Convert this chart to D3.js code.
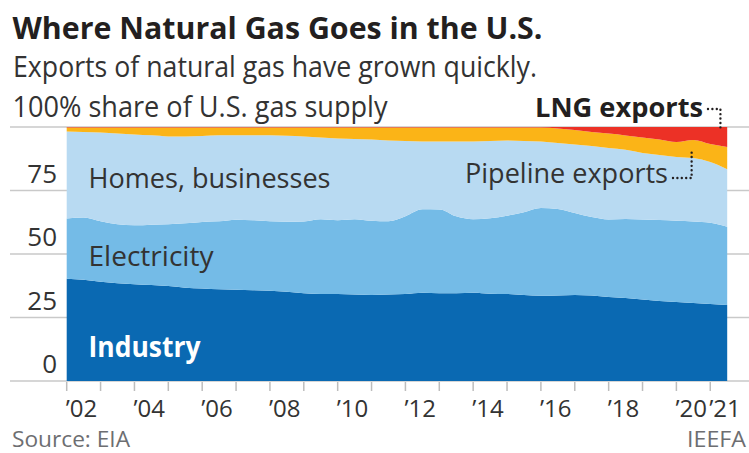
<!DOCTYPE html>
<html>
<head>
<meta charset="utf-8">
<script src="https://cdn.jsdelivr.net/npm/d3@7"></script>
<style>
  html, body { margin: 0; padding: 0; background: #fff; }
  svg { display: block; font-family: "Open Sans", "Noto Sans", sans-serif; }
</style>
</head>
<body>
<svg id="chart" width="749" height="453"></svg>
<script>
// ---- data (share of U.S. natural gas supply, %) ----
const years = [2002, 2002.5, 2003, 2003.5, 2004, 2004.5, 2005, 2005.5, 2006, 2006.5,
  2007, 2007.5, 2008, 2008.5, 2009, 2009.5, 2010, 2010.5, 2011, 2011.5,
  2012, 2012.5, 2013, 2013.5, 2014, 2014.5, 2015, 2015.5, 2016, 2016.5,
  2017, 2017.5, 2018, 2018.5, 2019, 2019.5, 2020, 2020.5, 2021, 2021.5];
const industry = [40.4,40.0,39.2,38.6,38.2,37.8,37.4,36.8,36.5,36.2,36.0,35.8,35.6,35.2,34.6,34.3,34.3,34.1,33.9,34.1,34.3,34.8,34.6,34.6,34.8,34.4,34.3,33.9,33.6,33.7,33.9,33.7,33.1,32.7,32.1,31.5,31.1,30.7,30.3,29.9];
const electricity = [23.8,24.6,23.8,23.2,23.2,23.8,24.4,25.4,26.2,26.8,27.6,27.6,27.4,27.6,28.3,29.5,29.1,29.7,29.3,28.9,30.7,33.0,33.1,30.3,29.0,29.7,30.9,32.7,34.5,34.1,32.3,30.9,30.5,31.1,31.5,31.9,32.0,32.1,32.0,30.8];
const homes = [34.3,33.7,35.0,35.8,35.8,35.2,34.6,34.3,33.9,33.9,33.3,33.5,33.9,33.9,33.5,32.3,32.3,31.7,32.1,31.9,29.7,26.8,26.8,29.5,30.7,30.5,29.7,28.1,26.2,26.0,27.0,28.0,28.1,27.2,26.2,25.6,25.1,25.0,23.9,22.7];
const pipeline = [1.6,1.8,2.0,2.4,2.8,3.1,3.5,3.5,3.3,3.1,3.1,3.1,3.1,3.3,3.5,3.9,4.3,4.5,4.7,5.1,5.3,5.5,5.5,5.5,5.5,5.3,5.1,5.3,5.5,5.7,5.7,5.5,5.7,5.7,6.1,6.1,5.9,7.1,7.1,8.7];
const lng = [0.2,0.2,0.2,0.2,0.2,0.2,0.2,0.2,0.2,0.2,0.2,0.2,0.2,0.2,0.2,0.2,0.2,0.2,0.2,0.2,0.2,0.2,0.2,0.2,0.2,0.2,0.2,0.2,0.2,0.6,1.2,2.0,2.6,3.3,4.1,4.9,5.9,5.1,6.7,7.9];

const seriesKeys = ["industry", "electricity", "homes", "pipeline", "lng"];
const seriesColors = ["#0a69b2", "#74bbe7", "#b8daf2", "#fbb417", "#ec3126"];
const yTicks = [0, 25, 50, 75, 100];
const xTickYears = [2002,2003,2004,2005,2006,2007,2008,2009,2010,2011,2012,2013,2014,2015,2016,2017,2018,2019,2020,2021];
const xLabelYears = [2002,2004,2006,2008,2010,2012,2014,2016,2018,2020,2021];
const xLabels = ["’02","’04","’06","’08","’10","’12","’14","’16","’18","’20","’21"];

// ---- build table ----
const table = years.map((t, i) => ({
  t, industry: industry[i], electricity: electricity[i], homes: homes[i],
  pipeline: pipeline[i], lng: lng[i]
}));

const svg = d3.select("#chart");
const x = d3.scaleLinear().domain([2002, 2021.5]).range([66.7, 727.2]);
const y = d3.scaleLinear().domain([0, 100]).range([381, 127]);

const stack = d3.stack().keys(seriesKeys).offset(d3.stackOffsetExpand);
const stacked = stack(table);

// gridlines
svg.append("g").selectAll("line").data(yTicks).join("line")
  .attr("x1", 10).attr("x2", 749)
  .attr("y1", d => y(d)).attr("y2", d => y(d))
  .attr("stroke", "#c9c9c9").attr("stroke-width", 1.5);

// areas
const area = d3.area()
  .x(d => x(d.data.t))
  .y0(d => y(d[0] * 100))
  .y1(d => y(d[1] * 100))
  .curve(d3.curveMonotoneX);

svg.append("g").selectAll("path").data(stacked).join("path")
  .attr("d", area)
  .attr("fill", (d, i) => seriesColors[i]);

// x ticks
svg.append("g").selectAll("line").data(xTickYears).join("line")
  .attr("x1", d => x(d)).attr("x2", d => x(d))
  .attr("y1", 382).attr("y2", 391)
  .attr("stroke", "#bdbdbd").attr("stroke-width", 1.5);

// x labels
svg.append("g").selectAll("text").data(xLabelYears).join("text")
  .attr("x", d => x(d) - 1).attr("y", 416.5)
  .attr("font-size", 24).attr("fill", "#333")
  .text((d, i) => xLabels[i]);

// y labels
svg.append("g").selectAll("text").data(yTicks.slice(0, 4)).join("text")
  .attr("x", 57).attr("y", d => y(d) - 8)
  .attr("text-anchor", "end")
  .attr("font-size", 26).attr("fill", "#333")
  .text(d => d);

// helper for text with fixed width
function label(txt, px, py, size, weight, fill, len, anchor) {
  const el = svg.append("text")
    .attr("x", px).attr("y", py)
    .attr("font-size", size).attr("font-weight", weight)
    .attr("fill", fill)
    .attr("text-anchor", anchor || "start")
    .text(txt);
  if (len) el.attr("textLength", len).attr("lengthAdjust", "spacingAndGlyphs");
  return el;
}

// titles
label("Where Natural Gas Goes in the U.S.", 12.5, 39, 31, 700, "#231f20", 530);
label("Exports of natural gas have grown quickly.", 13, 77, 30, 400, "#333", 524);
label("100% share of U.S. gas supply", 12.5, 117, 29, 400, "#333", 375);

// series labels
label("Homes, businesses", 88.5, 188, 28, 400, "#333", 242);
label("Electricity", 88.5, 265.5, 28, 400, "#333", 125);
label("Industry", 88.5, 357, 29, 700, "#ffffff", 112);
label("Pipeline exports", 465, 183, 28, 400, "#333", 203);
label("LNG exports", 535, 116.5, 27, 700, "#231f20", 168);

// source
label("Source: EIA", 12, 446.5, 22, 400, "#6d6e71", 118);
label("IEEFA", 746, 446.5, 22, 400, "#6d6e71", 59, "end");

// dotted leaders
const dot = { stroke: "#231f20", w: 2.4, dash: "0,4.4" };
function leader(points) {
  svg.append("path")
    .attr("d", d3.line()(points))
    .attr("fill", "none")
    .attr("stroke", dot.stroke).attr("stroke-width", dot.w)
    .attr("stroke-linecap", "round")
    .attr("stroke-dasharray", dot.dash);
}
const xL = x(2021.3);
leader([[708, 109], [xL, 109], [xL, 131]]);
const xP = x(2020.45);
leader([[673, 178], [xP, 178], [xP, 152]]);
</script>
</body>
</html>
